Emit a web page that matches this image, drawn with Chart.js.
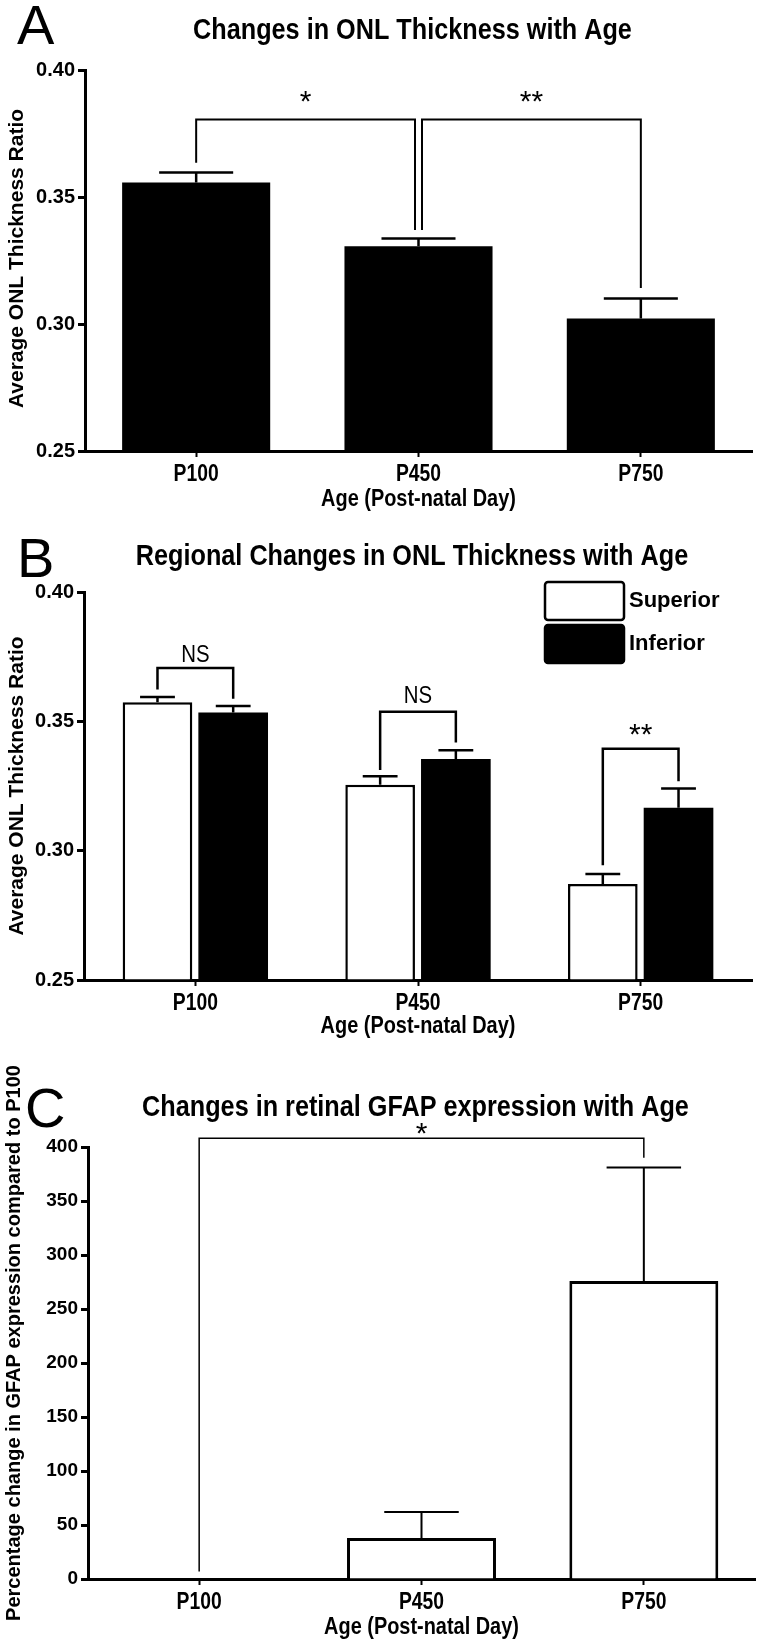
<!DOCTYPE html>
<html>
<head>
<meta charset="utf-8">
<title>ONL thickness and GFAP expression with age</title>
<script src="https://cdn.jsdelivr.net/npm/chart.js@4.4.0/dist/chart.umd.min.js"></script>
<style>
  html, body { margin: 0; padding: 0; background: #fff; }
  #page { position: relative; width: 769px; height: 1645px; overflow: hidden; }
  #page canvas { position: absolute; left: 0; }
</style>
</head>
<body>
<div id="page">
  <canvas id="chartA" width="769" height="520" style="top:0px"></canvas>
  <canvas id="chartB" width="769" height="540" style="top:520px"></canvas>
  <canvas id="chartC" width="769" height="585" style="top:1060px"></canvas>
</div>
<script>
// Data
const ages = ['P100', 'P450', 'P750'];

// Panel A - whole retina
const onlMean = [0.3557, 0.3306, 0.3022];
const onlErrTop = [0.3596, 0.3337, 0.3100];
const onlTicks = [0.25, 0.30, 0.35, 0.40];

// Panel B - superior vs inferior
const superiorMean = [0.3574, 0.3255, 0.2871];
const superiorErrTop = [0.3594, 0.3288, 0.2910];
const inferiorMean = [0.3534, 0.3354, 0.3166];
const inferiorErrTop = [0.3559, 0.3388, 0.3240];

// Panel C - GFAP
const gfapMean = [0, 38, 276];
const gfapErrTop = [0, 62, 381];
const gfapTicks = [0, 50, 100, 150, 200, 250, 300, 350, 400];

// Significance brackets: a/b = [dataset, index], values in data units
const bracketsA = [
  { a: [0, 0], b: [0, 1], top: 0.3805, aEnd: 0.3635, bEnd: 0.3370, label: '*', labelAt: 0.3895 },
  { a: [0, 1], b: [0, 2], top: 0.3805, aEnd: 0.3370, bEnd: 0.3142, label: '**', labelAt: 0.3895 }
];
const bracketsB = [
  { a: [0, 0], b: [1, 0], top: 0.3706, aEnd: 0.3623, bEnd: 0.3587, label: 'NS', labelAt: 0.3764 },
  { a: [0, 1], b: [1, 1], top: 0.3537, aEnd: 0.3312, bEnd: 0.3418, label: 'NS', labelAt: 0.3603 },
  { a: [0, 2], b: [1, 2], top: 0.3394, aEnd: 0.2944, bEnd: 0.3268, label: '**', labelAt: 0.3470 }
];
const bracketsC = [
  { a: [0, 0], b: [0, 2], top: 408, aEnd: 7, bEnd: 390, label: '*', labelAt: 417 }
];

const FONT = '"Liberation Sans", Arial, Helvetica, sans-serif';

// Text squeezed horizontally (the figure uses a condensed face)
function drawText(ctx, text, x, y, font, sx) {
  ctx.save();
  ctx.font = font;
  ctx.translate(x, y);
  ctx.scale(sx, 1);
  ctx.textAlign = 'center';
  ctx.textBaseline = 'middle';
  ctx.fillText(text, 0, 0);
  ctx.restore();
}

// Symbol centred on its ink box
function drawSymbol(ctx, text, x, yc, font, sx) {
  ctx.save();
  ctx.font = font;
  const m = ctx.measureText(text);
  ctx.translate(x, yc + (m.actualBoundingBoxAscent - m.actualBoundingBoxDescent) / 2);
  ctx.scale(sx, 1);
  ctx.textAlign = 'center';
  ctx.textBaseline = 'alphabetic';
  ctx.fillText(text, 0, 0);
  ctx.restore();
}

const decor = {
  id: 'decor',
  afterDraw(chart, args, o) {
    const ctx = chart.ctx;
    const area = chart.chartArea;
    const xs = chart.scales.x;
    const ys = chart.scales.y;
    ctx.save();
    ctx.fillStyle = '#000';
    ctx.strokeStyle = '#000';

    // panel letter
    ctx.font = '56px ' + FONT;
    ctx.textAlign = 'left';
    ctx.textBaseline = 'alphabetic';
    ctx.fillText(o.letter, o.letterX, o.letterY);

    // title
    drawText(ctx, o.title, (area.left + area.right) / 2 - 6, o.titleY, 'bold 29px ' + FONT, 0.87);

    // y axis title
    ctx.save();
    ctx.translate(o.yTitleX, (area.top + area.bottom) / 2 + o.yTitleShift);
    ctx.rotate(-Math.PI / 2);
    ctx.font = 'bold ' + o.yTitleSize + 'px ' + FONT;
    ctx.textAlign = 'center';
    ctx.textBaseline = 'middle';
    ctx.fillText(o.yTitle, 0, 0);
    ctx.restore();

    // category labels + axis title
    chart.data.labels.forEach((lab, i) => {
      drawText(ctx, lab, xs.getPixelForValue(i), area.bottom + 24, 'bold 23px ' + FONT, 0.84);
    });
    drawText(ctx, o.xTitle, (area.left + area.right) / 2, area.bottom + o.xTitleGap, 'bold 24px ' + FONT, 0.83);

    // error bars (upper only)
    ctx.lineWidth = o.errWidth;
    chart.data.datasets.forEach((ds, di) => {
      const meta = chart.getDatasetMeta(di);
      meta.data.forEach((bar, i) => {
        if (ds.errTop[i] <= ds.data[i]) return;
        const top = ys.getPixelForValue(ds.errTop[i]);
        const half = bar.width / 4;
        ctx.beginPath();
        ctx.moveTo(bar.x, bar.y);
        ctx.lineTo(bar.x, top);
        ctx.moveTo(bar.x - half, top);
        ctx.lineTo(bar.x + half, top);
        ctx.stroke();
      });
    });

    // significance brackets
    const list = o.brackets;
    const shared = (p, side) => list.some(q => {
      const r = side === 'a' ? q.b : q.a;
      return r[0] === p[0] && r[1] === p[1];
    });
    ctx.lineWidth = o.bracketWidth;
    list.forEach(br => {
      let xa = chart.getDatasetMeta(br.a[0]).data[br.a[1]].x;
      let xb = chart.getDatasetMeta(br.b[0]).data[br.b[1]].x;
      if (shared(br.a, 'a')) xa += 3.5;
      if (shared(br.b, 'b')) xb -= 3.5;
      const yt = ys.getPixelForValue(br.top);
      ctx.beginPath();
      ctx.moveTo(xa, ys.getPixelForValue(br.aEnd));
      ctx.lineTo(xa, yt);
      ctx.lineTo(xb, yt);
      ctx.lineTo(xb, ys.getPixelForValue(br.bEnd));
      ctx.stroke();
      const isStar = br.label.indexOf('*') >= 0;
      drawSymbol(ctx, br.label, (xa + xb) / 2, ys.getPixelForValue(br.labelAt),
        isStar ? '30px ' + FONT : '24px ' + FONT, isStar ? 1 : 0.85);
    });

    // legend
    if (o.legend) {
      const L = o.legend;
      chart.data.datasets.forEach((ds, di) => {
        const y0 = area.top + L.top + di * L.step;
        ctx.beginPath();
        ctx.roundRect(L.x, y0, L.w, L.h, 3);
        ctx.fillStyle = ds.backgroundColor;
        ctx.fill();
        ctx.lineWidth = 2.5;
        ctx.strokeStyle = '#000';
        ctx.stroke();
        ctx.fillStyle = '#000';
        ctx.font = 'bold 22px ' + FONT;
        ctx.textAlign = 'left';
        ctx.textBaseline = 'middle';
        ctx.fillText(ds.label, L.x + L.w + 5, y0 + L.h / 2);
      });
    }
    ctx.restore();
  }
};

function makeChart(id, cfg) {
  return new Chart(document.getElementById(id), {
    type: 'bar',
    data: { labels: ages, datasets: cfg.datasets },
    options: {
      responsive: false,
      animation: false,
      events: [],
      layout: { padding: { top: cfg.top, right: cfg.right, left: 0, bottom: 0 } },
      plugins: {
        legend: { display: false },
        tooltip: { enabled: false },
        decor: cfg.decor
      },
      scales: {
        x: {
          offset: true,
          ticks: { display: false },
          grid: { display: true, drawOnChartArea: false, offset: false, drawTicks: true,
                  tickLength: 6, tickWidth: 2, color: '#000' },
          border: { display: true, color: '#000', width: 3 },
          afterFit: s => { s.height = cfg.xHeight; }
        },
        y: {
          min: cfg.ticks[0],
          max: cfg.ticks[cfg.ticks.length - 1],
          afterBuildTicks: s => { s.ticks = cfg.ticks.map(v => ({ value: v })); },
          ticks: {
            color: '#000',
            padding: 3,
            font: { family: FONT, weight: 'bold', size: cfg.tickSize },
            callback: cfg.tickFormat
          },
          grid: { display: true, drawOnChartArea: false, drawTicks: true,
                  tickLength: 7, tickWidth: 3, color: '#000' },
          border: { display: true, color: '#000', width: 3 },
          title: { display: false },
          afterFit: s => { s.width = cfg.yWidth; }
        }
      }
    },
    plugins: [decor]
  });
}

const fmt2 = v => Number(v).toFixed(2);
const fmt0 = v => String(v);

makeChart('chartA', {
  datasets: [{
    label: 'All',
    data: onlMean,
    errTop: onlErrTop,
    base: onlTicks[0],
    backgroundColor: '#000',
    borderWidth: 0,
    categoryPercentage: 0.666,
    barPercentage: 1.0
  }],
  ticks: onlTicks, tickFormat: fmt2, tickSize: 20,
  top: 70, right: 17, xHeight: 69, yWidth: 85,
  decor: {
    letter: 'A', letterX: 17, letterY: 44,
    title: 'Changes in ONL Thickness with Age', titleY: 31,
    yTitle: 'Average ONL Thickness Ratio', yTitleSize: 21, yTitleX: 17, yTitleShift: -2,
    xTitle: 'Age (Post-natal Day)', xTitleGap: 48,
    errWidth: 2.5, bracketWidth: 2, brackets: bracketsA
  }
});

makeChart('chartB', {
  datasets: [{
    label: 'Superior',
    data: superiorMean,
    errTop: superiorErrTop,
    base: onlTicks[0],
    backgroundColor: '#fff',
    borderColor: '#000',
    borderWidth: 2.5,
    categoryPercentage: 0.68,
    barPercentage: 0.92
  }, {
    label: 'Inferior',
    data: inferiorMean,
    errTop: inferiorErrTop,
    base: onlTicks[0],
    backgroundColor: '#000',
    borderColor: '#000',
    borderWidth: 0,
    categoryPercentage: 0.68,
    barPercentage: 0.92
  }],
  ticks: onlTicks, tickFormat: fmt2, tickSize: 20,
  top: 72, right: 17, xHeight: 80, yWidth: 84,
  decor: {
    letter: 'B', letterX: 17, letterY: 57,
    title: 'Regional Changes in ONL Thickness with Age', titleY: 37,
    yTitle: 'Average ONL Thickness Ratio', yTitleSize: 21, yTitleX: 17, yTitleShift: 0,
    xTitle: 'Age (Post-natal Day)', xTitleGap: 46,
    errWidth: 2.5, bracketWidth: 2.5, brackets: bracketsB,
    legend: { x: 545, w: 79, h: 38, top: -10, step: 43 }
  }
});

makeChart('chartC', {
  datasets: [{
    label: 'GFAP',
    data: gfapMean,
    errTop: gfapErrTop,
    base: 0,
    backgroundColor: '#fff',
    borderColor: '#000',
    borderWidth: 3,
    categoryPercentage: 0.67,
    barPercentage: 1.0
  }],
  ticks: gfapTicks, tickFormat: fmt0, tickSize: 19,
  top: 87, right: 14, xHeight: 66, yWidth: 88,
  decor: {
    letter: 'C', letterX: 25, letterY: 67,
    title: 'Changes in retinal GFAP expression with Age', titleY: 48,
    yTitle: 'Percentage change in GFAP expression compared to P100', yTitleSize: 20, yTitleX: 14, yTitleShift: -20,
    xTitle: 'Age (Post-natal Day)', xTitleGap: 48,
    errWidth: 2, bracketWidth: 1.5, brackets: bracketsC
  }
});
</script>
</body>
</html>
